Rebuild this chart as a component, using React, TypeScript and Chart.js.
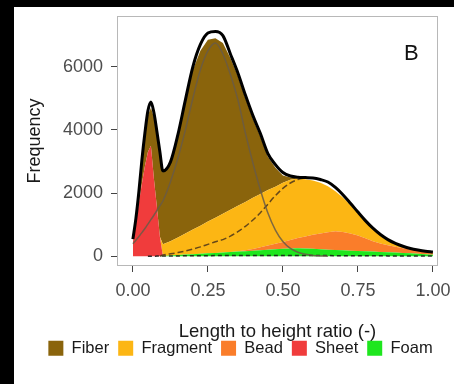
import { useEffect, useRef } from 'react';
import { Chart, registerables } from 'chart.js';

Chart.register(...registerables);

// x grid (length to height ratio)
const xs = [0, 0.01, 0.02, 0.03, 0.04, 0.05, 0.06, 0.07, 0.08, 0.09, 0.1,
  0.125, 0.15, 0.175, 0.2, 0.225, 0.25, 0.275, 0.3, 0.325, 0.35, 0.375, 0.4, 0.425, 0.45, 0.475,
  0.5, 0.525, 0.55, 0.575, 0.6, 0.625, 0.65, 0.675, 0.7, 0.725, 0.75, 0.775, 0.8, 0.825, 0.85,
  0.875, 0.9, 0.925, 0.95, 0.975, 1.0];

// stacked categories (bottom to top: Foam, Sheet, Bead, Fragment, Fiber)
const foam = [0, 0, 0, 0, 0, 0, 0, 0, 0, 0, 10,
  25, 40, 55, 70, 85, 100, 110, 120, 135, 150, 165, 180, 195, 210, 225,
  240, 250, 255, 250, 240, 225, 210, 200, 190, 180, 170, 160, 150, 140, 130,
  120, 110, 95, 80, 65, 50];
const sheet = [450, 1050, 1700, 2300, 2850, 3300, 3500, 2450, 1550, 620, 0,
  0, 0, 0, 0, 0, 0, 0, 0, 0, 0, 0, 0, 0, 0, 0,
  0, 0, 0, 0, 0, 0, 0, 0, 0, 0, 0, 0, 0, 0, 0,
  0, 0, 0, 0, 0, 0];
const bead = [0, 0, 0, 0, 0, 0, 0, 0, 0, 0, 0,
  0, 0, 0, 0, 0, 0, 0, 0, 0, 10, 25, 50, 90, 130, 170,
  210, 265, 325, 380, 440, 495, 550, 590, 580, 540, 490, 410, 330, 270, 220,
  180, 150, 125, 105, 85, 75];
const fragment = [0, 0, 0, 0, 0, 0, 0, 0, 0, 0, 370,
  455, 560, 665, 780, 885, 1000, 1110, 1230, 1335, 1440, 1530, 1620, 1685, 1760, 1805,
  1880, 1905, 1880, 1810, 1720, 1610, 1460, 1270, 1090, 900, 720, 560, 420, 290, 190,
  120, 70, 40, 25, 20, 15];
const fiber = [70, 100, 300, 650, 950, 1150, 1200, 1950, 2300, 2580, 2270,
  2470, 3200, 4180, 5050, 5530, 5750, 5680, 5400, 4800, 4100, 3280, 2500, 1810, 1050, 600,
  230, 70, 0, 0, 0, 0, 0, 0, 0, 0, 0, 0, 0, 0, 0,
  0, 0, 0, 0, 0, 0];

// fitted mixture: total density and components
const total = [545, 1200, 2050, 3050, 3900, 4600, 4880, 4550, 3950, 3300, 2700,
  2980, 3850, 4950, 6000, 6700, 7060, 7110, 6980, 6400, 5800, 5100, 4450, 3880, 3250, 2900,
  2650, 2540, 2500, 2490, 2480, 2430, 2350, 2180, 1950, 1680, 1400, 1130, 890, 690, 530,
  410, 320, 250, 200, 160, 135];
const fiberComp = [400, 510, 630, 750, 880, 1020, 1160, 1300, 1450, 1600, 1750,
  2350, 3100, 4000, 5000, 5900, 6500, 6750, 6400, 5750, 4950, 3900, 2950, 2100, 1370, 830,
  470, 250, 130, 65, 30, 15, 5, null, null, null, null, null, null, null, null,
  null, null, null, null, null, null];
const fragmentComp = [null, null, null, null, null, null, null, null, null, 10, 40,
  80, 120, 170, 230, 300, 380, 460, 530, 640, 780, 950, 1150, 1380, 1650, 1920,
  2150, 2320, 2430, 2480, null, null, null, null, null, null, null, null, null, null, null,
  null, null, null, null, null, null];
const minorComp = [null, null, null, null, null, 5, 5, 5, 8, 10, 10,
  12, 14, 16, 18, 20, 22, 24, 26, 28, 30, 30, 30, 30, 30, 30,
  30, 30, 30, 28, 26, 25, 24, 22, 20, 20, 18, 18, 16, 16, 15,
  15, 14, 14, 13, 12, 12];

const xTickValues = [0, 0.25, 0.5, 0.75, 1.0];
const yTickValues = [0, 2000, 4000, 6000];
const panelLabel = 'B';

const FONT = "'Liberation Sans', Arial, sans-serif";

export default function App() {
  const ref = useRef<HTMLCanvasElement>(null);

  useEffect(() => {
    const pts = (arr: (number | null)[]) => xs.map((x, i) => ({ x, y: arr[i] }));
    const area = (label: string, arr: number[], color: string, fill: string | boolean) => ({
      label,
      data: pts(arr),
      backgroundColor: color,
      borderColor: 'rgba(0,0,0,0)',
      borderWidth: 0,
      pointRadius: 0,
      tension: 0,
      fill,
      stack: 'areas',
    });
    const line = (label: string, arr: (number | null)[], color: string, width: number, dash: number[], stack: string) => ({
      label,
      data: pts(arr),
      borderColor: color,
      backgroundColor: color,
      borderWidth: width,
      borderDash: dash,
      pointRadius: 0,
      fill: false,
      cubicInterpolationMode: 'monotone' as const,
      stack,
    });

    const boxPlugin = {
      id: 'panelBox',
      afterDatasetsDraw(chart: any) {
        const { ctx, chartArea: a, scales } = chart;
        ctx.save();
        ctx.strokeStyle = '#b8b8b8';
        ctx.lineWidth = 1;
        ctx.strokeRect(a.left + 0.5, a.top + 0.5, a.right - a.left - 1, a.bottom - a.top - 1);
        ctx.fillStyle = '#111';
        ctx.font = `22px ${FONT}`;
        ctx.textAlign = 'center';
        ctx.textBaseline = 'middle';
        ctx.fillText(panelLabel, scales.x.getPixelForValue(0.928), scales.y.getPixelForValue(6400));
        ctx.restore();
      },
    };

    const chart = new Chart(ref.current!, {
      type: 'line',
      data: {
        datasets: [
          line('total', total, '#000000', 3, [], 'total'),
          line('fiberComp', fiberComp, 'rgba(105,90,70,0.85)', 1.5, [], 'c1'),
          line('fragmentComp', fragmentComp, 'rgba(85,60,25,0.9)', 1.5, [6, 3], 'c2'),
          line('minorComp', minorComp, 'rgba(30,30,30,0.9)', 1.5, [4, 3], 'c3'),
          area('Foam', foam, '#1ee61e', 'origin'),
          area('Sheet', sheet, '#f03c3c', '-1'),
          area('Bead', bead, '#fa7d2a', '-1'),
          area('Fragment', fragment, '#fcb614', '-1'),
          area('Fiber', fiber, '#8a640c', '-1'),
        ] as any,
      },
      options: {
        animation: false,
        responsive: false,
        devicePixelRatio: 1,
        layout: { autoPadding: false, padding: { left: 19, right: 6, top: 9, bottom: 17.5 } },
        plugins: {
          tooltip: { enabled: false },
          legend: {
            position: 'bottom',
            reverse: true,
            labels: {
              filter: (item: any) => item.datasetIndex >= 4,
              boxWidth: 15,
              boxHeight: 15,
              padding: 9,
              color: '#1a1a1a',
              font: { family: FONT, size: 16.5 },
            },
          },
        },
        scales: {
          x: {
            type: 'linear',
            min: -0.053,
            max: 1.017,
            afterBuildTicks: (axis: any) => { axis.ticks = xTickValues.map((v) => ({ value: v })); },
            afterFit: (axis: any) => { axis.height = 65; axis.paddingLeft = 0; axis.paddingRight = 0; },
            ticks: {
              autoSkip: false,
              maxRotation: 0,
              padding: 8,
              color: '#4d4d4d',
              font: { family: FONT, size: 18 },
              callback: (v: any) => Number(v).toFixed(2),
            },
            grid: { drawOnChartArea: false, drawTicks: true, tickLength: 6, tickColor: '#444', tickWidth: 1 },
            border: { display: false },
            title: {
              display: true,
              text: 'Length to height ratio (-)',
              color: '#1a1a1a',
              font: { family: FONT, size: 18.5 },
              padding: { top: 0, bottom: -12 },
            },
          },
          y: {
            type: 'linear',
            stacked: true,
            min: -305,
            max: 7600,
            afterBuildTicks: (axis: any) => { axis.ticks = yTickValues.map((v) => ({ value: v })); },
            afterFit: (axis: any) => { axis.width = 84; axis.paddingTop = 0; axis.paddingBottom = 0; },
            ticks: {
              padding: 8,
              color: '#4d4d4d',
              font: { family: FONT, size: 18 },
              callback: (v: any) => String(v),
            },
            grid: { drawOnChartArea: false, drawTicks: true, tickLength: 6, tickColor: '#444', tickWidth: 1 },
            border: { display: false },
            title: {
              display: true,
              text: 'Frequency',
              color: '#1a1a1a',
              font: { family: FONT, size: 18 },
              padding: { top: -8.8, bottom: 0 },
            },
          },
          spacer: {
            type: 'linear',
            position: 'right',
            display: true,
            afterFit: (axis: any) => { axis.width = 10; axis.paddingTop = 0; axis.paddingBottom = 0; },
            ticks: { display: false },
            grid: { display: false },
            border: { display: false },
          },
        },
      },
      plugins: [boxPlugin],
    });
    return () => chart.destroy();
  }, []);

  return (
    <div style={{ position: 'fixed', left: 0, top: 0, width: 454, height: 384, background: '#000', overflow: 'hidden' }}>
      <div style={{ position: 'absolute', left: 14, top: 7, width: 440, height: 377, background: '#fff' }}>
        <canvas ref={ref} width={440} height={377} style={{ display: 'block', width: 440, height: 377 }} />
      </div>
    </div>
  );
}
